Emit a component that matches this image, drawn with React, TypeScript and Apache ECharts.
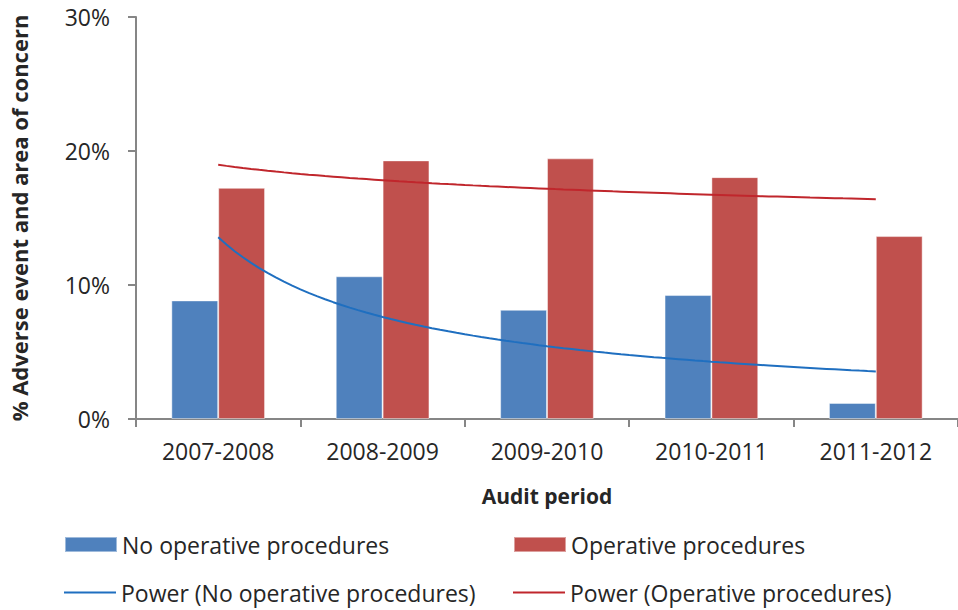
import React, { useEffect, useRef } from "react";
import * as echarts from "echarts";

const categories = ["2007-2008", "2008-2009", "2009-2010", "2010-2011", "2011-2012"];
const noOperative = [8.85, 10.65, 8.15, 9.25, 1.2];
const operative = [17.25, 19.3, 19.45, 18.05, 13.65];
const yTicks = [0, 10, 20, 30];

const FONT = "'Open Sans', 'Liberation Sans', sans-serif";
const TEXT = "#262626";

// Power trendline (least squares on ln(y) vs ln(x)), as spreadsheet software fits it
function powerFit(values: number[]) {
  const xs = values.map((_, i) => Math.log(i + 1));
  const ys = values.map((v) => Math.log(v));
  const n = values.length;
  const mx = xs.reduce((a, b) => a + b, 0) / n;
  const my = ys.reduce((a, b) => a + b, 0) / n;
  let sxy = 0;
  let sxx = 0;
  for (let i = 0; i < n; i++) {
    sxy += (xs[i] - mx) * (ys[i] - my);
    sxx += (xs[i] - mx) * (xs[i] - mx);
  }
  const b = sxy / sxx;
  const a = Math.exp(my - b * mx);
  const pts: number[][] = [];
  const steps = 80;
  for (let k = 0; k <= steps; k++) {
    const x = 1 + ((n - 1) * k) / steps;
    pts.push([x, a * Math.pow(x, b)]);
  }
  return pts;
}

export default function App() {
  const ref = useRef<HTMLDivElement>(null);
  useEffect(() => {
    if (!ref.current) return;
    const chart = echarts.init(ref.current, null, { renderer: "svg" });
    const legendText = { fontFamily: FONT, fontSize: 23, color: TEXT };
    const legendBase = { padding: 0, itemGap: 0 };
    chart.setOption({
      animation: false,
      backgroundColor: "#ffffff",
      grid: { left: 130, top: 17, width: 835, height: 402, containLabel: false },
      xAxis: [
        {
          type: "category",
          data: categories,
          name: "Audit period",
          nameLocation: "middle",
          nameGap: 66,
          nameTextStyle: { fontFamily: FONT, fontSize: 21, fontWeight: "bold", color: TEXT },
          axisLine: { lineStyle: { color: "#868686", width: 2 } },
          axisTick: { show: true, length: 8, lineStyle: { color: "#868686", width: 2 } },
          axisLabel: { fontFamily: FONT, fontSize: 23, color: TEXT, margin: 20 },
          splitLine: { show: false },
        },
        {
          type: "value",
          min: 0.5,
          max: 5.5,
          show: false,
          splitLine: { show: false },
        },
      ],
      yAxis: {
        type: "value",
        min: yTicks[0],
        max: yTicks[yTicks.length - 1],
        interval: 10,
        name: "% Adverse event and area of concern",
        nameLocation: "middle",
        nameGap: 106,
        nameTextStyle: { fontFamily: FONT, fontSize: 22, fontWeight: "bold", color: TEXT },
        axisLine: { show: true, lineStyle: { color: "#868686", width: 2 } },
        axisTick: { show: true, length: 8, lineStyle: { color: "#868686", width: 2 } },
        axisLabel: { fontFamily: FONT, fontSize: 23, color: TEXT, margin: 26, formatter: "{value}%" },
        splitLine: { show: false },
      },
      legend: [
        {
          ...legendBase,
          data: [{ name: "No operative procedures", icon: "rect" }],
          left: 64,
          top: 533,
          itemWidth: 52,
          itemHeight: 15,
          textStyle: legendText,
        },
        {
          ...legendBase,
          data: [{ name: "Operative procedures", icon: "rect" }],
          left: 513,
          top: 533,
          itemWidth: 52,
          itemHeight: 15,
          textStyle: legendText,
        },
        {
          ...legendBase,
          data: [{ name: "Power (No operative procedures)", icon: "rect" }],
          left: 64,
          top: 581,
          itemWidth: 52,
          itemHeight: 2,
          textStyle: legendText,
        },
        {
          ...legendBase,
          data: [{ name: "Power (Operative procedures)", icon: "rect" }],
          left: 513,
          top: 581,
          itemWidth: 52,
          itemHeight: 2,
          textStyle: legendText,
        },
      ],
      series: [
        {
          name: "No operative procedures",
          type: "bar",
          data: noOperative,
          barGap: "0%",
          barCategoryGap: "43%",
          itemStyle: { color: "#4F81BD", borderColor: "rgba(255,255,255,0.45)", borderWidth: 1 },
        },
        {
          name: "Operative procedures",
          type: "bar",
          data: operative,
          barGap: "0%",
          barCategoryGap: "43%",
          itemStyle: { color: "#C0504D", borderColor: "rgba(255,255,255,0.45)", borderWidth: 1 },
        },
        {
          name: "Power (No operative procedures)",
          type: "line",
          xAxisIndex: 1,
          data: powerFit(noOperative),
          showSymbol: false,
          symbol: "none",
          itemStyle: { color: "#1F6FC0" },
          lineStyle: { color: "#1F6FC0", width: 2 },
        },
        {
          name: "Power (Operative procedures)",
          type: "line",
          xAxisIndex: 1,
          data: powerFit(operative),
          showSymbol: false,
          symbol: "none",
          itemStyle: { color: "#C0262C" },
          lineStyle: { color: "#C0262C", width: 2 },
        },
      ],
    });
    return () => chart.dispose();
  }, []);
  return (
    <div
      ref={ref}
      style={{ position: "fixed", left: 0, top: 0, width: 958, height: 610, background: "#fff" }}
    />
  );
}
